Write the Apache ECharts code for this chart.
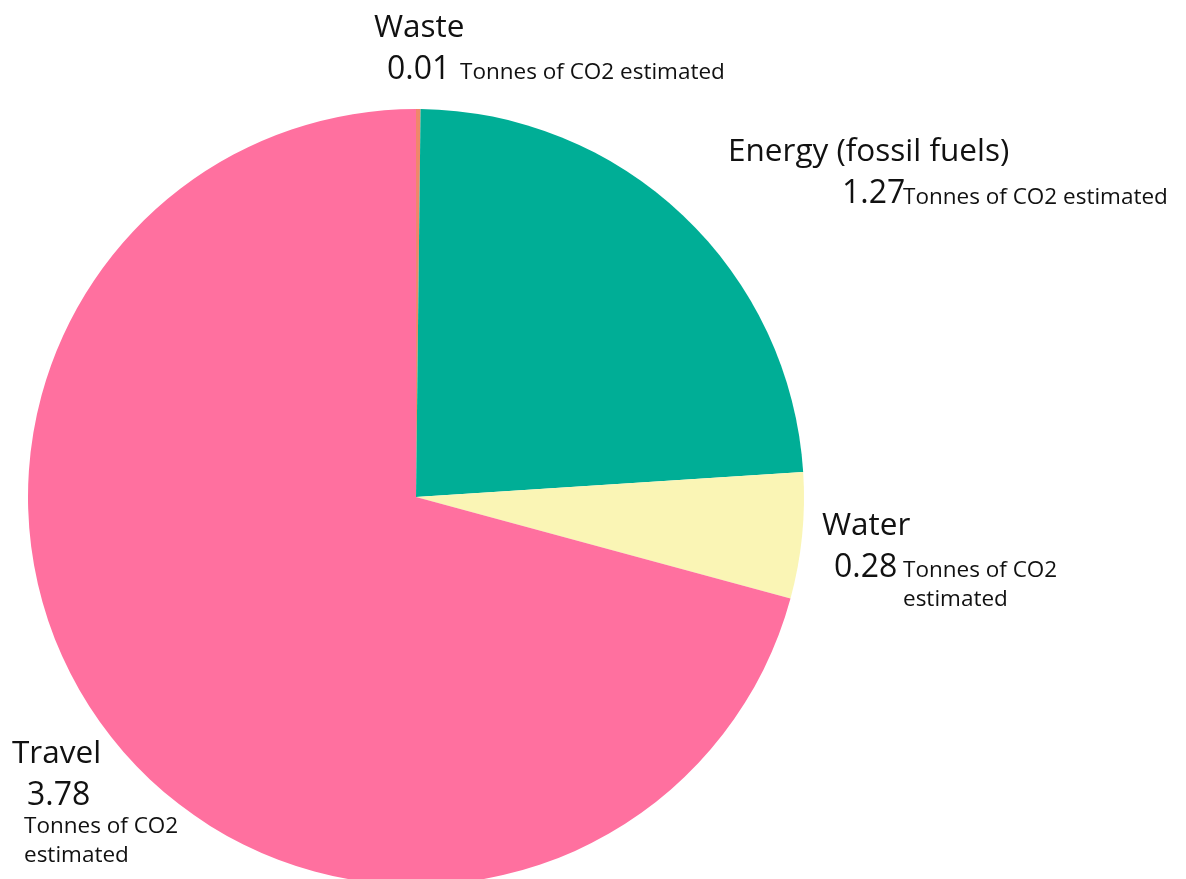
<!DOCTYPE html>
<html>
<head>
<meta charset="utf-8">
<script src="https://cdn.jsdelivr.net/npm/echarts@6/dist/echarts.min.js"></script>
<style>html,body{margin:0;padding:0;background:#fff;}#c{width:1186px;height:879px;}</style>
</head>
<body>
<div id="c"></div>
<script>
const categories = ['Waste', 'Energy (fossil fuels)', 'Water', 'Travel'];
const values = [0.01, 1.27, 0.28, 3.78];
const unitText = 'Tonnes of CO2 estimated';
const colors = ['#f0876a', '#00ae96', '#faf5b5', '#ff709f'];

// label layout (baselines / left edges only)
const labelPos = [
  {nx: 374, nb: 39, vx: 387, vb: 81, ux: 460, ub: [81], unitLines: [unitText]},
  {nx: 728, nb: 163, vx: 842, vb: 205, ux: 903, ub: [206], unitLines: [unitText]},
  {nx: 822, nb: 537, vx: 834, vb: 579, ux: 903, ub: [579, 608], unitLines: ['Tonnes of CO2', 'estimated']},
  {nx: 12, nb: 765, vx: 27, vb: 807, ux: 24, ub: [835, 864], unitLines: ['Tonnes of CO2', 'estimated']}
];

const FONT = '"Open Sans", "Noto Sans", sans-serif';
const NAME = 31.5, VAL = 32, SMALL = 22.5;
const graphics = [];
function txt(text, x, baseline, size) {
  graphics.push({
    type: 'text', x: x, y: baseline - 0.36 * size,
    style: {text: text, font: size + 'px ' + FONT, fill: '#111', verticalAlign: 'middle', align: 'left'}
  });
}
categories.forEach((name, i) => {
  const p = labelPos[i];
  txt(name, p.nx, p.nb, NAME);
  txt(values[i].toFixed(2), p.vx, p.vb, VAL);
  p.unitLines.forEach((line, k) => txt(line, p.ux, p.ub[k], SMALL));
});

const chart = echarts.init(document.getElementById('c'), null, {renderer: 'canvas'});
chart.setOption({
  backgroundColor: '#fff',
  animation: false,
  series: [{
    type: 'pie',
    center: [416, 497],
    radius: 388,
    startAngle: 90,
    clockwise: true,
    avoidLabelOverlap: false,
    label: {show: false},
    labelLine: {show: false},
    itemStyle: {borderWidth: 0},
    emphasis: {disabled: true},
    data: categories.map((n, i) => ({name: n, value: values[i], itemStyle: {color: colors[i]}}))
  }],
  graphic: graphics
});
</script>
</body>
</html>
